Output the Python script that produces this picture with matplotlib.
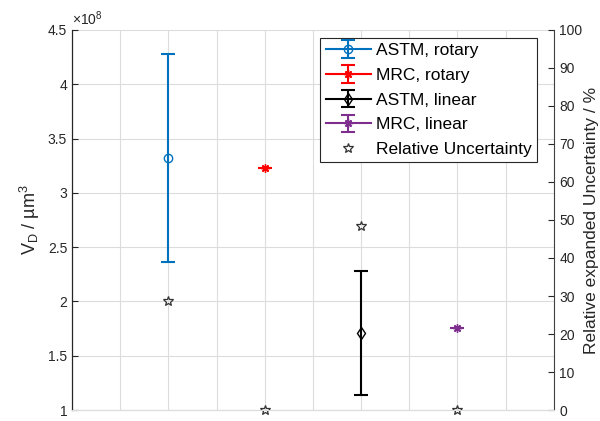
import numpy as np
import matplotlib.pyplot as plt
from matplotlib.ticker import FuncFormatter

plt.rcParams['font.family'] = ['Liberation Sans', 'DejaVu Sans']
plt.rcParams['mathtext.fontset'] = 'custom'
plt.rcParams['mathtext.rm'] = 'Liberation Sans'
plt.rcParams['mathtext.it'] = 'Liberation Sans:italic'

# volumes (um^3) and expanded uncertainties
labels = ['ASTM, rotary', 'MRC, rotary', 'ASTM, linear', 'MRC, linear']
xpos = [1, 2, 3, 4]
vd = [3.32e8, 3.23e8, 1.71e8, 1.76e8]
err = [0.96e8, 0.0, 0.57e8, 0.0]
rel_unc = [28.8, 0.0, 48.5, 0.0]

colors = ['#0072BD', 'red', 'black', '#7E2F8E']
markers = ['o', (8, 2, 0), 'd', (8, 2, 0)]
mfc = ['none', 'red', 'none', '#7E2F8E']

fig = plt.figure(figsize=(6.0, 4.21), dpi=100)
ax = fig.add_axes([0.12, 0.026, 0.803, 0.903])
ax2 = ax.twinx()

handles = []
for i in range(len(xpos)):
    h = ax.errorbar(xpos[i], vd[i], yerr=err[i], color=colors[i], marker=markers[i],
                    mfc=mfc[i], mec=colors[i], ms=6, lw=1.5, capsize=5, capthick=1.5,
                    ls='-', label=labels[i])
    handles.append(h)

hs, = ax2.plot(xpos, rel_unc, ls='none', marker='*', ms=7, mfc='none', mec='#333333',
               mew=0.9, label='Relative Uncertainty', clip_on=False)
handles.append(hs)

ax.set_xlim(0, 5)
ax.set_ylim(1e8, 4.5e8)
ax.set_xticks(np.arange(0, 5.01, 0.5))
ax.set_xticklabels([])
ax.set_yticks(np.arange(1e8, 4.51e8, 0.5e8))
ax.yaxis.set_major_formatter(FuncFormatter(lambda v, p: '%g' % (v / 1e8)))
ax.grid(True, color='#dcdcdc', lw=0.8)
ax.set_axisbelow(True)
ax.tick_params(axis='x', length=0)
ax.tick_params(axis='y', direction='in', length=4, labelsize=10, colors='#262626')

ax2.set_ylim(0, 100)
ax2.set_yticks(np.arange(0, 101, 10))
ax2.tick_params(axis='y', direction='in', length=4, labelsize=10, colors='#262626',
                pad=4)

for a in (ax, ax2):
    a.spines['top'].set_visible(False)
    a.spines['bottom'].set_color('#dcdcdc')
ax.spines['right'].set_visible(False)
ax2.spines['left'].set_color('#262626')
ax2.spines['right'].set_color('#404040')

ax.text(0.0, 1.005, r'$\times$10$^{8}$', transform=ax.transAxes, fontsize=10,
        color='#262626', va='bottom', ha='left')
ax.set_ylabel(r'V$_{\rm D}$ / µm$^{\rm 3}$', fontsize=13, color='#262626', labelpad=4)
ax2.set_ylabel('Relative expanded Uncertainty / %', fontsize=12.5, color='#262626',
               labelpad=1)

leg = ax2.legend(handles=handles, loc='upper right', bbox_to_anchor=(0.965, 0.979),
                 borderaxespad=0, fontsize=12.5, fancybox=False, framealpha=1,
                 edgecolor='#262626', handlelength=2.6, handletextpad=0.3,
                 labelspacing=0.55, borderpad=0.3)
leg.get_frame().set_linewidth(0.8)

fig.savefig('out.png', dpi=100)
